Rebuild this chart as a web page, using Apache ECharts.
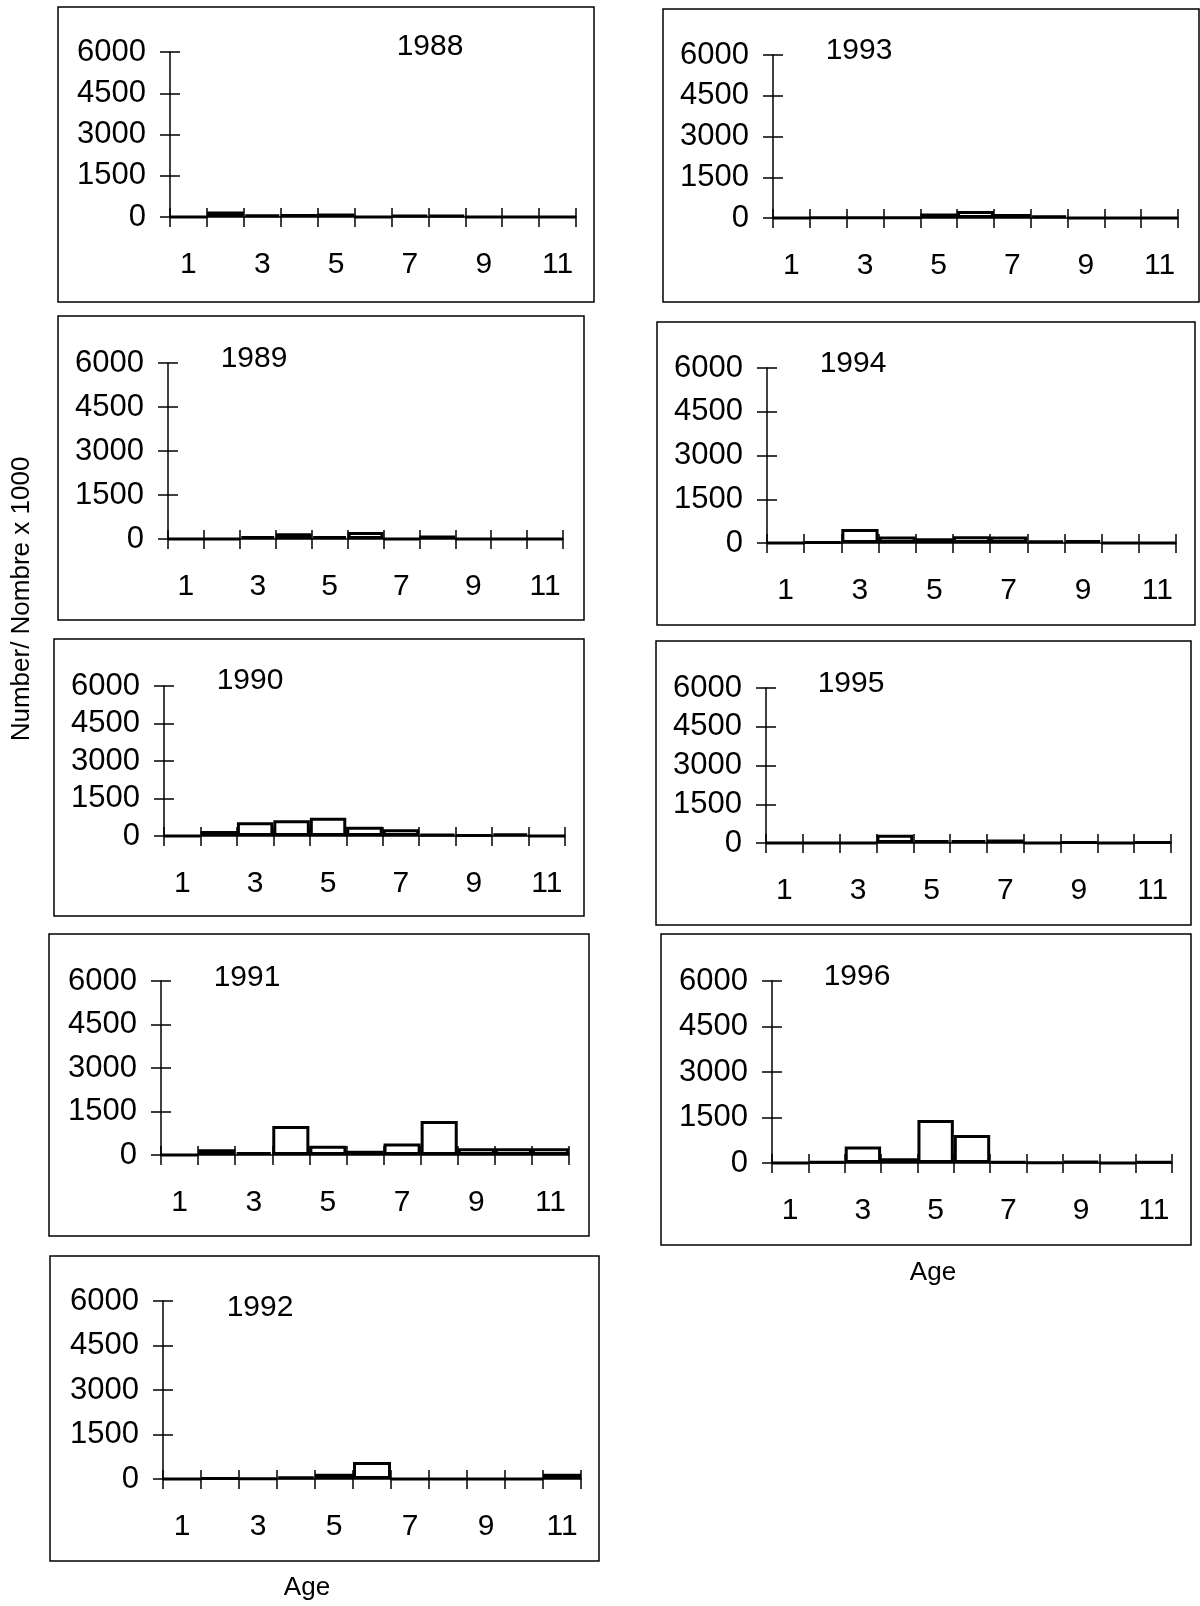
<!DOCTYPE html>
<html>
<head>
<meta charset="utf-8">
<script src="https://cdn.jsdelivr.net/npm/echarts@6/dist/echarts.min.js"></script>
<style>
  html, body { margin: 0; padding: 0; background: #fff; }
  #main { width: 1200px; height: 1606px; }
</style>
</head>
<body>
<div id="main"></div>
<script>
// ages 1..11, number x 1000 per age
var ages = ['1', '2', '3', '4', '5', '6', '7', '8', '9', '10', '11'];
var yTicks = [0, 1500, 3000, 4500, 6000];
var years = ['1988', '1989', '1990', '1991', '1992', '1993', '1994', '1995', '1996'];

var n1988 = [0, 200, 100, 110, 130, 0, 70, 70, 0, 0, 0];
var n1989 = [0, 0, 100, 200, 100, 240, 0, 120, 0, 0, 0];
var n1990 = [0, 200, 550, 630, 730, 370, 270, 80, 50, 100, 0];
var n1991 = [0, 200, 100, 1000, 320, 150, 400, 1170, 230, 230, 230];
var n1992 = [0, 30, 10, 80, 180, 570, 0, 0, 0, 0, 180];
var n1993 = [0, 20, 20, 20, 170, 260, 150, 100, 0, 0, 0];
var n1994 = [0, 40, 480, 220, 160, 230, 220, 90, 100, 0, 0];
var n1995 = [0, 0, 0, 320, 110, 110, 140, 0, 30, 0, 30];
var n1996 = [0, 50, 540, 160, 1420, 920, 50, 10, 60, 0, 50];

var values = [n1988, n1989, n1990, n1991, n1992, n1993, n1994, n1995, n1996];

// panel layout: box [x, y, w, h], plot [left, top, width, height], year label [x, y]
var boxes = [
    [58, 7, 536, 295], [58, 316, 526, 304], [54, 639, 530, 277], [49, 934, 540, 302], [50, 1256, 549, 305],
    [663, 9, 536, 293], [657, 322, 538, 303], [656, 641, 535, 284], [661, 934, 530, 311]
];
var plots = [
    [170, 52, 406, 165], [168, 363, 395, 176], [164, 686, 401, 150], [161, 981, 408, 174], [163, 1301, 418, 178],
    [773, 55, 405, 163], [767, 368, 409, 175], [766, 688, 405, 155], [772, 981, 400, 182]
];
var labelPos = [
    [430, 47], [254, 359], [250, 681], [247, 978], [260, 1308],
    [859, 51], [853, 364], [851, 684], [857, 977]
];

var FONT = '"Liberation Sans", Arial, sans-serif';
var chart = echarts.init(document.getElementById('main'));

var grid = [], xAxis = [], yAxis = [], series = [], graphic = [];

for (var i = 0; i < years.length; i++) {
    var p = plots[i];
    grid.push({ left: p[0], top: p[1], width: p[2], height: p[3], containLabel: false });

    // main x axis: labels + ticks below
    xAxis.push({
        type: 'category', gridIndex: i, data: ages, position: 'bottom',
        axisLine: { lineStyle: { color: '#000', width: 1.5 } },
        axisTick: { show: true, interval: 0, length: 10, lineStyle: { color: '#000', width: 1.5 } },
        axisLabel: { interval: 1, margin: 33, fontSize: 30, color: '#000', fontFamily: FONT },
        splitLine: { show: false }
    });
    // second x axis only for ticks above the line
    xAxis.push({
        type: 'category', gridIndex: i, data: ages, position: 'bottom',
        axisLine: { show: false },
        axisTick: { show: true, inside: true, interval: 0, length: 9, lineStyle: { color: '#000', width: 1.5 } },
        axisLabel: { show: false },
        splitLine: { show: false }
    });

    yAxis.push({
        type: 'value', gridIndex: i, min: yTicks[0], max: yTicks[yTicks.length - 1], interval: 1500,
        axisLine: { show: true, lineStyle: { color: '#000', width: 1.5 } },
        axisTick: { show: true, length: 10, lineStyle: { color: '#000', width: 1.5 } },
        axisLabel: { margin: 24, fontSize: 31, color: '#000', fontFamily: FONT,
                     formatter: function (v) { return String(v); } },
        splitLine: { show: false }
    });
    yAxis.push({
        type: 'value', gridIndex: i, min: yTicks[0], max: yTicks[yTicks.length - 1], interval: 1500, position: 'left',
        axisLine: { show: false },
        axisTick: { show: true, inside: true, length: 10, lineStyle: { color: '#000', width: 1.5 } },
        axisLabel: { show: false },
        splitLine: { show: false }
    });

    series.push({
        type: 'bar', name: years[i], xAxisIndex: i * 2, yAxisIndex: i * 2,
        data: values[i], barCategoryGap: '0%',
        itemStyle: { color: '#fff', borderColor: '#000', borderWidth: 3 },
        emphasis: { disabled: true },
        silent: true, animation: false
    });

    var b = boxes[i];
    graphic.push({
        type: 'rect', shape: { x: b[0], y: b[1], width: b[2], height: b[3] },
        style: { fill: null, stroke: '#000', lineWidth: 1.5 }, z: -1, silent: true
    });
    graphic.push({
        type: 'text', x: labelPos[i][0], y: labelPos[i][1], silent: true,
        style: { text: years[i], font: '30px ' + FONT, fill: '#000',
                 textAlign: 'center', textVerticalAlign: 'middle', align: 'center', verticalAlign: 'middle' }
    });
}

// axis titles
graphic.push({
    type: 'text', x: 307, y: 1588, silent: true,
    style: { text: 'Age', font: '26px ' + FONT, fill: '#000',
             textAlign: 'center', textVerticalAlign: 'middle', align: 'center', verticalAlign: 'middle' }
});
graphic.push({
    type: 'text', x: 933, y: 1273, silent: true,
    style: { text: 'Age', font: '26px ' + FONT, fill: '#000',
             textAlign: 'center', textVerticalAlign: 'middle', align: 'center', verticalAlign: 'middle' }
});
graphic.push({
    type: 'text', x: 22, y: 599, rotation: Math.PI / 2, silent: true,
    style: { text: 'Number/ Nombre x 1000', font: '26px ' + FONT, fill: '#000',
             textAlign: 'center', textVerticalAlign: 'middle', align: 'center', verticalAlign: 'middle' }
});

var option = {
    backgroundColor: '#fff',
    animation: false,
    grid: grid,
    xAxis: xAxis,
    yAxis: yAxis,
    series: series,
    graphic: graphic
};
chart.setOption(option);
</script>
</body>
</html>
